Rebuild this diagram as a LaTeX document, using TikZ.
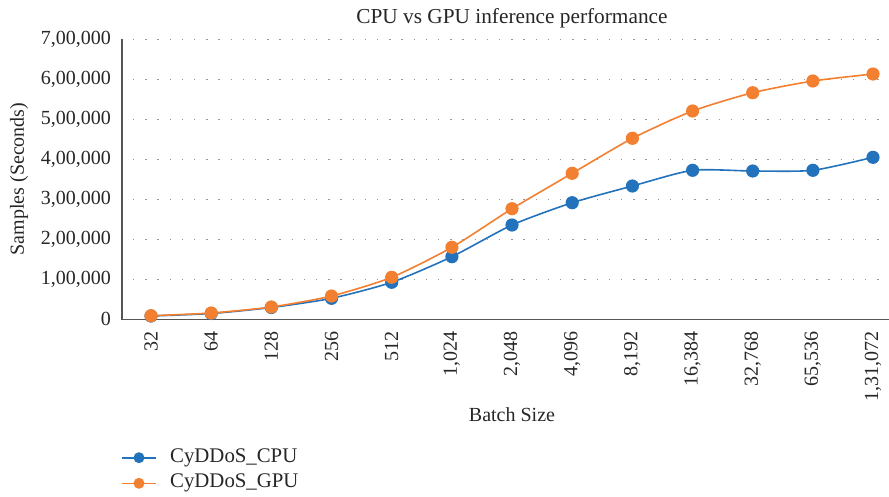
\documentclass[tikz,border=0pt]{standalone}
\usepackage{fontspec}
\setmainfont{Liberation Serif}
\definecolor{cpublue}{HTML}{2372BC}
\definecolor{gpuorange}{HTML}{F37F30}
\definecolor{axisgray}{HTML}{555555}
\definecolor{textgray}{HTML}{262626}
\begin{document}
\begin{tikzpicture}[x=1pt,y=-1pt,
  lbl/.style={font=\fontsize{20}{23}\selectfont, text=textgray, inner sep=0pt},
  gridline/.style={draw=gray!80, line width=1.3pt, dash pattern=on 1.3pt off 10.9pt},
  axisline/.style={draw=axisgray, line width=1.2pt},
  cpuline/.style={draw=cpublue, line width=1.6pt},
  gpuline/.style={draw=gpuorange, line width=1.6pt},
  cpudot/.style={fill=cpublue},
  gpudot/.style={fill=gpuorange}]
\useasboundingbox (0,0) rectangle (889,496);
% title
\node[lbl, font=\fontsize{21.3}{24}\selectfont] (title) at (512,18) {CPU vs GPU inference performance};
% grid
\foreach \v in {1,...,7}{
  \draw[gridline] (133,{319.3-40*\v}) -- (889,{319.3-40*\v});
}
% y tick labels
\foreach \v/\t in {0/0,1/{1,00,000},2/{2,00,000},3/{3,00,000},4/{4,00,000},5/{5,00,000},6/{6,00,000},7/{7,00,000}}{
  \node[lbl, anchor=east] (yt\v) at (111,{319.3-40*\v}) {\t};
}
% axes
\coordinate (o) at (122,319.3);
\coordinate (ytop) at (122,39);
\coordinate (xend) at (889,319.3);
\draw[axisline] (ytop) -- (o) -- (xend);
% x tick labels
\foreach \i/\t in {0/32,1/64,2/128,3/256,4/512,5/{1,024},6/{2,048},7/{4,096},8/{8,192},9/{16,384},10/{32,768},11/{65,536},12/{1,31,072}}{
  \node[lbl, rotate=90, anchor=east] (xt\i) at ({151+60.17*\i},331) {\t};
}
% axis titles
\node[lbl] (xtitle) at (512,415) {Batch Size};
\node[lbl, rotate=90] (ytitle) at (19,179) {Samples (Seconds)};
% CPU series
\draw[cpuline] plot[smooth, tension=0.4] coordinates {(151,316) (211.2,313.5) (271.3,307.5) (331.5,298.3) (391.7,282.3) (451.9,256.7) (512,225) (572.2,202.7) (632.4,186) (692.6,170.3) (752.7,171) (812.9,170.3) (873,157.3)};
\foreach \x/\y in {151/316,211.2/313.5,271.3/307.5,331.5/298.3,391.7/282.3,451.9/256.7,512/225,572.2/202.7,632.4/186,692.6/170.3,752.7/171,812.9/170.3,873/157.3}{
  \fill[cpudot] (\x,\y) circle (6.6);
}
% GPU series
\draw[gpuline] plot[smooth, tension=0.4] coordinates {(151,315.7) (211.2,313) (271.3,307) (331.5,296) (391.7,277.3) (451.9,247.3) (512,208.7) (572.2,173.3) (632.4,138.3) (692.6,111) (752.7,92.7) (812.9,81) (873,74)};
\foreach \x/\y in {151/315.7,211.2/313,271.3/307,331.5/296,391.7/277.3,451.9/247.3,512/208.7,572.2/173.3,632.4/138.3,692.6/111,752.7/92.7,812.9/81,873/74}{
  \fill[gpudot] (\x,\y) circle (6.6);
}
% legend
\coordinate (lc1) at (122,457.7);
\coordinate (lc2) at (156,457.7);
\coordinate (lg1) at (122,483.3);
\coordinate (lg2) at (156,483.3);
\draw[cpuline] (lc1) -- (lc2);
\fill[cpudot] (139,457.7) circle (5.5);
\draw[gpuline] (lg1) -- (lg2);
\fill[gpudot] (139,483.3) circle (5.5);
\node[lbl, anchor=west, font=\fontsize{20.8}{23}\selectfont] (lcpu) at (170,457.7) {CyDDoS\_CPU};
\node[lbl, anchor=west, font=\fontsize{20.8}{23}\selectfont] (lgpu) at (170,483.3) {CyDDoS\_GPU};
\end{tikzpicture}
\end{document}
